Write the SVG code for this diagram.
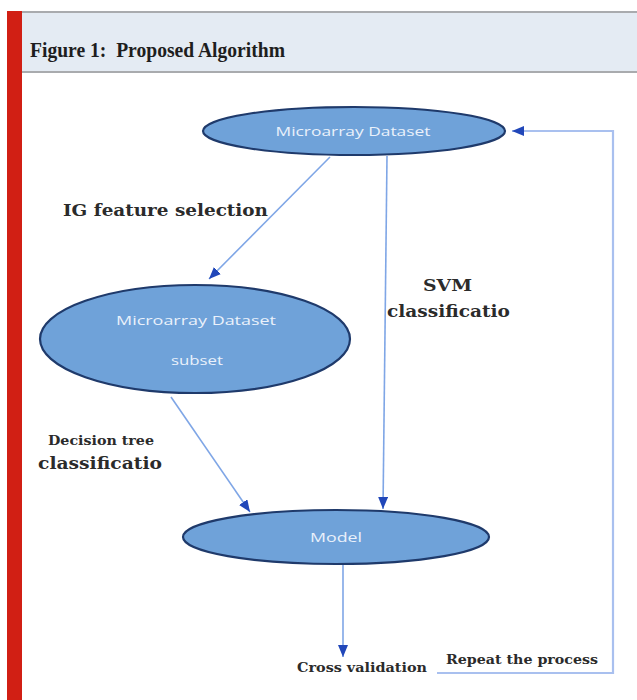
<svg xmlns="http://www.w3.org/2000/svg" width="637" height="700" viewBox="0 0 637 700">
  <style>
    .node { fill: #6fa2d9; stroke: #1f3a6b; stroke-width: 2.2; }
    .ntext { font-family: "Open Sans", "Liberation Sans", sans-serif; font-size: 13.5px; fill: #eaf1fb; text-anchor: middle; }
    .label { font-family: "DejaVu Serif", "Liberation Serif", serif; font-weight: bold; fill: #2b2b2b; }
    .edge { fill: none; stroke: #7fa6e6; stroke-width: 1.6; }
    .loop { fill: none; stroke: #a9c0ef; stroke-width: 2.2; }
    .title { font-family: "Liberation Serif", "Times New Roman", serif; font-weight: bold; font-size: 22px; fill: #1e1e1e; }
  </style>
  <defs>
    <marker id="head" viewBox="0 0 12 10" refX="12" refY="5" markerWidth="12" markerHeight="10" markerUnits="userSpaceOnUse" orient="auto">
      <path d="M0,0 L12,5 L0,10 Z" fill="#2147b9"/>
    </marker>
  </defs>

  <!-- page background -->
  <rect x="0" y="0" width="637" height="700" fill="#ffffff"/>

  <!-- caption band -->
  <rect x="22" y="12" width="615" height="60" fill="#e4ebf3"/>
  <line x1="22" y1="12" x2="637" y2="12" stroke="#a9abae" stroke-width="2"/>
  <line x1="22" y1="72" x2="637" y2="72" stroke="#a9abae" stroke-width="2"/>
  <rect x="7" y="11" width="15" height="689" fill="#d11f14"/>
  <text class="title" x="30" y="57" textLength="255" lengthAdjust="spacingAndGlyphs" xml:space="preserve">Figure 1:  Proposed Algorithm</text>

  <!-- connectors -->
  <g id="connectors">
    <line class="edge" x1="330" y1="157" x2="209" y2="279" marker-end="url(#head)"/>
    <line class="edge" x1="387" y1="156" x2="383" y2="509" marker-end="url(#head)"/>
    <line class="edge" x1="171" y1="397" x2="250" y2="512" marker-end="url(#head)"/>
    <line class="edge" x1="343" y1="565" x2="343" y2="657" marker-end="url(#head)"/>
    <polyline class="loop" points="437,673 613,673 613,131 512,131" marker-end="url(#head)"/>
  </g>

  <!-- nodes -->
  <g id="dataset">
    <ellipse class="node" cx="354" cy="131" rx="151" ry="24"/>
    <text class="ntext" x="353" y="136" textLength="155" lengthAdjust="spacingAndGlyphs">Microarray Dataset</text>
  </g>
  <g id="subset">
    <ellipse class="node" cx="195" cy="339" rx="155" ry="54"/>
    <text class="ntext" x="196" y="325" textLength="160" lengthAdjust="spacingAndGlyphs">Microarray Dataset</text>
    <text class="ntext" x="197" y="365" textLength="52" lengthAdjust="spacingAndGlyphs">subset</text>
  </g>
  <g id="model">
    <ellipse class="node" cx="336" cy="537" rx="153" ry="27"/>
    <text class="ntext" x="336" y="542" textLength="52" lengthAdjust="spacingAndGlyphs">Model</text>
  </g>

  <!-- edge labels -->
  <g id="labels">
    <text class="label" x="63" y="216" font-size="17" textLength="205" lengthAdjust="spacingAndGlyphs">IG feature selection</text>
    <text class="label" x="423" y="291" font-size="17" textLength="49" lengthAdjust="spacingAndGlyphs">SVM</text>
    <text class="label" x="387" y="317" font-size="17" textLength="123" lengthAdjust="spacingAndGlyphs">classificatio</text>
    <text class="label" x="48" y="445" font-size="13.5" textLength="106" lengthAdjust="spacingAndGlyphs">Decision tree</text>
    <text class="label" x="38" y="469" font-size="17" textLength="124" lengthAdjust="spacingAndGlyphs">classificatio</text>
    <text class="label" x="297" y="672" font-size="13.5" textLength="130" lengthAdjust="spacingAndGlyphs">Cross validation</text>
    <text class="label" x="446" y="664" font-size="13.5" textLength="152" lengthAdjust="spacingAndGlyphs">Repeat the process</text>
  </g>
</svg>
